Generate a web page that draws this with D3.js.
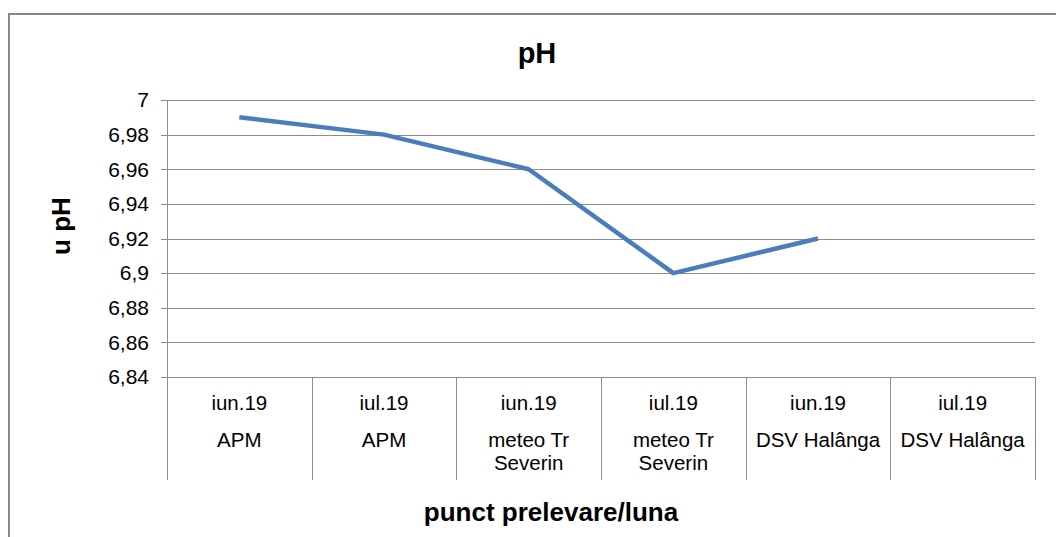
<!DOCTYPE html>
<html>
<head>
<meta charset="utf-8">
<script src="https://cdn.jsdelivr.net/npm/d3@7"></script>
<style>
	body { margin: 0; background: #fff; }
	text { font-family: "Liberation Sans", Arial, sans-serif; fill: #000; }
</style>
</head>
<body>
<script>
	// chart data
	var months = ['iun.19', 'iul.19', 'iun.19', 'iul.19', 'iun.19', 'iul.19'];
	var places = [['APM'], ['APM'], ['meteo Tr', 'Severin'], ['meteo Tr', 'Severin'], ['DSV Halânga'], ['DSV Halânga']];
	var ph_values = [6.99, 6.98, 6.96, 6.90, 6.92, null];
	var y_ticks = [6.84, 6.86, 6.88, 6.90, 6.92, 6.94, 6.96, 6.98, 7];

	var width = 1056, height = 537;
	var plot_left = 167, plot_right = 1035, plot_top = 100, plot_bottom = 377;

	var svg = d3.select('body').append('svg')
		.attr('width', width)
		.attr('height', height);

	// outer frame (only top + left visible)
	svg.append('rect')
		.attr('x', 9).attr('y', 14)
		.attr('width', 1100).attr('height', 600)
		.attr('fill', 'none')
		.attr('stroke', '#888')
		.attr('stroke-width', 2);

	var idx = d3.range(months.length);
	var x = d3.scaleBand().domain(idx).range([plot_left, plot_right]);
	var y = d3.scaleLinear().domain([6.84, 7]).range([plot_bottom, plot_top]);

	// gridlines
	svg.append('g').selectAll('line').data(y_ticks).enter().append('line')
		.attr('x1', plot_left - 6).attr('x2', plot_right)
		.attr('y1', d => Math.round(y(d)) + 0.5).attr('y2', d => Math.round(y(d)) + 0.5)
		.attr('stroke', '#8c8c8c');

	// y axis line
	svg.append('line')
		.attr('x1', plot_left + 0.5).attr('x2', plot_left + 0.5)
		.attr('y1', plot_top).attr('y2', plot_bottom)
		.attr('stroke', '#8c8c8c');

	// y tick labels
	svg.append('g').selectAll('text').data(y_ticks).enter().append('text')
		.attr('x', 149)
		.attr('y', d => y(d))
		.attr('dy', '0.35em')
		.attr('text-anchor', 'end')
		.style('font-size', '21px')
		.text(d => String(+d.toFixed(2)).replace('.', ','));

	// category dividers
	var bounds = idx.map(i => x(i)).concat([plot_right]);
	svg.append('g').selectAll('line').data(bounds).enter().append('line')
		.attr('x1', d => Math.round(d) + 0.5).attr('x2', d => Math.round(d) + 0.5)
		.attr('y1', plot_bottom).attr('y2', 480)
		.attr('stroke', '#8c8c8c');

	// category labels
	var cat = svg.append('g').selectAll('g').data(idx).enter().append('g')
		.attr('transform', i => 'translate(' + (x(i) + x.bandwidth() / 2) + ',0)');
	cat.append('text')
		.attr('y', 410)
		.attr('text-anchor', 'middle')
		.style('font-size', '20.5px')
		.text(i => months[i]);
	cat.each(function(i) {
		d3.select(this).selectAll('.pl').data(places[i]).enter().append('text')
			.attr('y', (d, k) => 447 + k * 23)
			.attr('text-anchor', 'middle')
			.style('font-size', '20.5px')
			.text(d => d);
	});

	// line
	var line = d3.line()
		.defined(i => ph_values[i] != null)
		.x(i => x(i) + x.bandwidth() / 2)
		.y(i => y(ph_values[i]));
	svg.append('path')
		.datum(idx)
		.attr('d', line)
		.attr('fill', 'none')
		.attr('stroke', '#4a7ebb')
		.attr('stroke-width', 4.5)
		.attr('stroke-linejoin', 'round');

	// titles
	svg.append('text').text('pH')
		.attr('x', 537).attr('y', 63)
		.attr('text-anchor', 'middle')
		.style('font-size', '29px').style('font-weight', 'bold');
	svg.append('text').text('punct prelevare/luna')
		.attr('x', 551).attr('y', 521)
		.attr('text-anchor', 'middle')
		.style('font-size', '26px').style('font-weight', 'bold');
	svg.append('text').text('u pH')
		.attr('transform', 'translate(70,226) rotate(-90)')
		.attr('text-anchor', 'middle')
		.style('font-size', '26px').style('font-weight', 'bold');
</script>
</body>
</html>
